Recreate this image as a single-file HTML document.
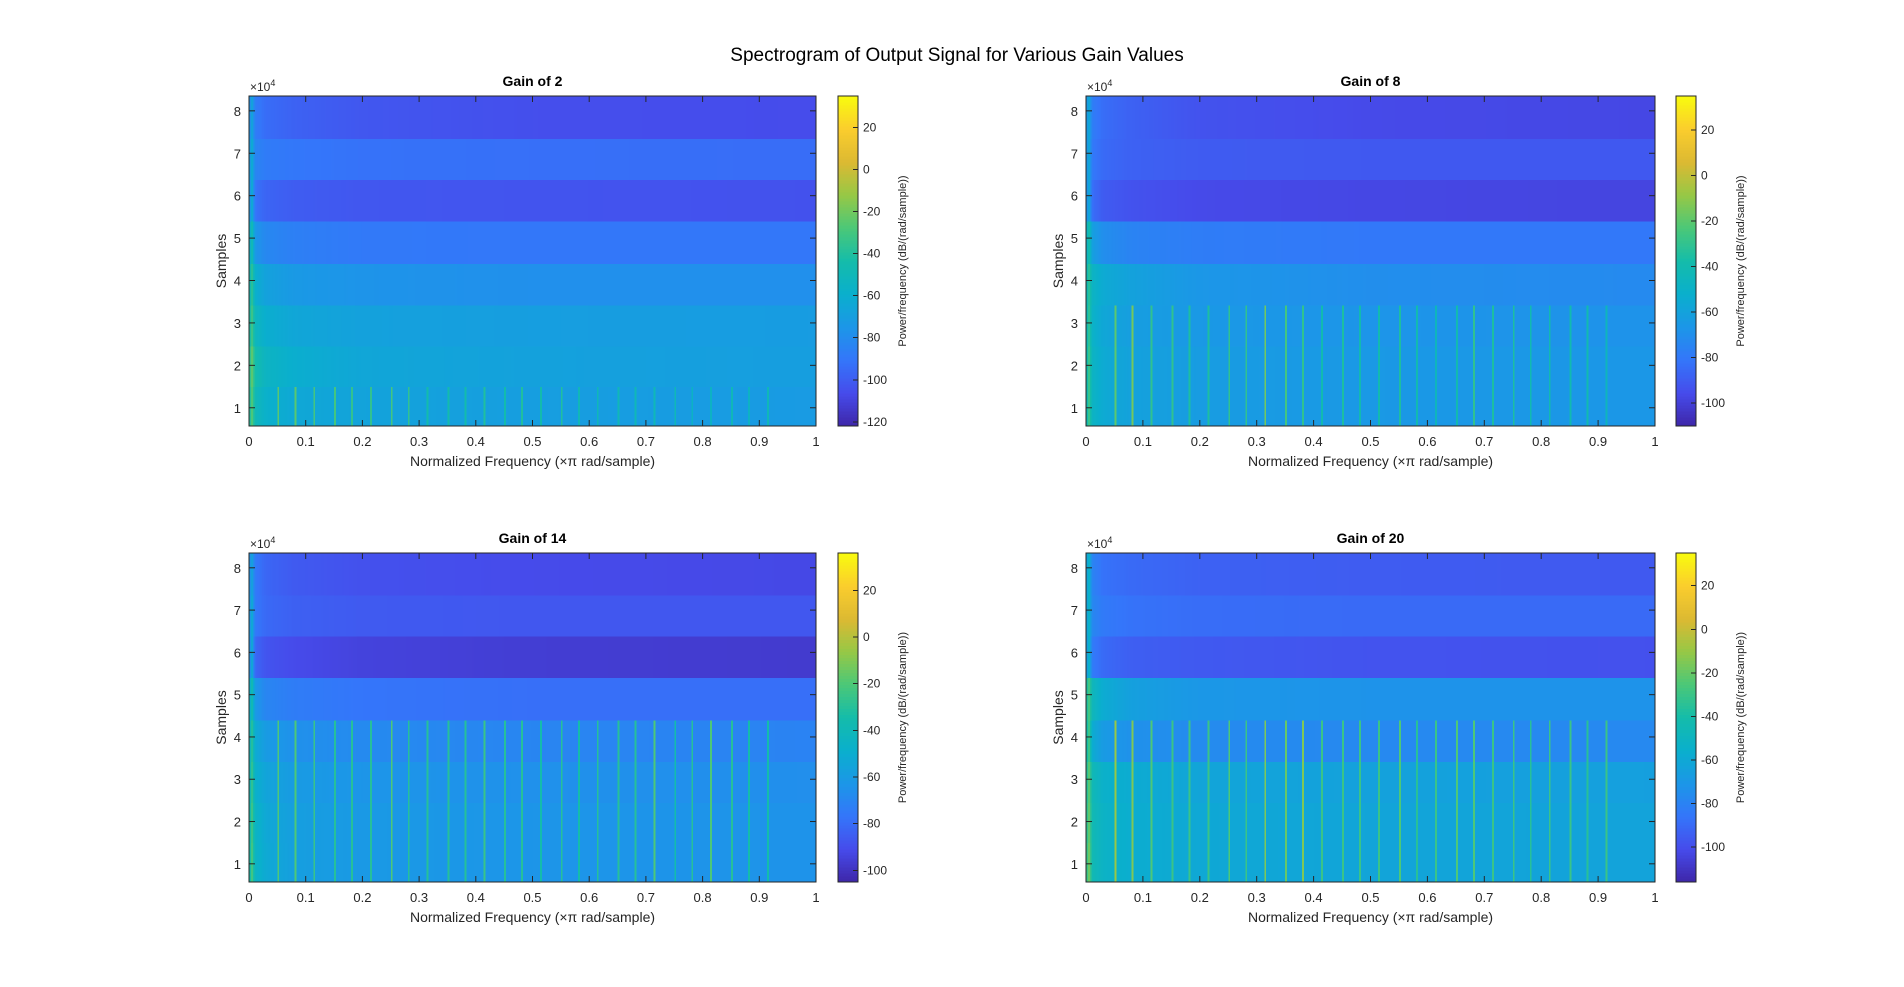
<!DOCTYPE html>
<html><head><meta charset="utf-8">
<style>
html,body{margin:0;padding:0;background:#fff;}
svg{display:block;font-family:"Liberation Sans",Arial,sans-serif;}
</style></head>
<body>
<svg id="fig" width="1904" height="987" viewBox="0 0 1904 987" xmlns="http://www.w3.org/2000/svg">
<rect width="1904" height="987" fill="#fff"/>
<text x="957" y="61" font-size="19" text-anchor="middle" fill="#000">Spectrogram of Output Signal for Various Gain Values</text>
</svg>
<script>
// ---- data ----
const titles = ["Gain of 2","Gain of 8","Gain of 14","Gain of 20"];
const anchorFreqs = [0, 0.004, 0.012, 0.03, 0.08, 0.2, 0.5, 1.0];
const bandEdges = [0.57, 1.5, 2.45, 3.42, 4.4, 5.4, 6.38, 7.35, 8.35];
const xTicks = [0,0.1,0.2,0.3,0.4,0.5,0.6,0.7,0.8,0.9,1];
const yTicks = [1,2,3,4,5,6,7,8];
const climG2 = [-122, 35];
const climG8 = [-110, 35];
const climG14 = [-105, 36];
const climG20 = [-116, 35];
const cbTicksG2 = [20,0,-20,-40,-60,-80,-100,-120];
const cbTicksG8 = [20,0,-20,-40,-60,-80,-100];
const cbTicksG14 = [20,0,-20,-40,-60,-80,-100];
const cbTicksG20 = [20,0,-20,-40,-60,-80,-100];
// band levels (dB) at anchorFreqs, bands from bottom to top
const levelsG2 = [
 [-50,-25,-50,-58,-64,-67,-70,-72],
 [-45,-22,-45,-54,-60,-65,-68,-70],
 [-50,-30,-52,-60,-65,-68,-70,-71],
 [-55,-35,-60,-68,-73,-76,-78,-78],
 [-65,-45,-75,-82,-86,-89,-90,-90],
 [-85,-60,-92,-97,-100,-102,-103,-104],
 [-80,-60,-84,-88,-90,-92,-93,-94],
 [-85,-65,-88,-94,-98,-102,-105,-106]];
const levelsG8 = [
 [-50,-25,-48,-55,-60,-63,-65,-66],
 [-48,-25,-48,-55,-60,-63,-65,-66],
 [-50,-28,-50,-57,-62,-65,-67,-68],
 [-48,-30,-48,-55,-60,-66,-70,-72],
 [-55,-35,-62,-70,-75,-78,-80,-80],
 [-75,-55,-84,-90,-93,-96,-97,-98],
 [-72,-55,-80,-85,-88,-90,-91,-91],
 [-70,-55,-78,-84,-88,-93,-96,-97]];
const levelsG14 = [
 [-45,-20,-45,-52,-58,-61,-63,-64],
 [-45,-22,-45,-53,-58,-61,-63,-64],
 [-48,-25,-48,-55,-60,-63,-65,-66],
 [-50,-28,-52,-60,-65,-68,-70,-71],
 [-55,-35,-62,-70,-74,-77,-79,-79],
 [-75,-50,-82,-88,-91,-94,-96,-97],
 [-70,-50,-76,-81,-84,-86,-87,-87],
 [-70,-55,-76,-82,-86,-89,-91,-92]];
const levelsG20 = [
 [-40,-15,-45,-52,-57,-60,-62,-63],
 [-42,-18,-45,-52,-57,-60,-62,-63],
 [-45,-20,-46,-54,-58,-62,-64,-65],
 [-50,-25,-58,-68,-73,-76,-77,-77],
 [-45,-25,-48,-58,-65,-70,-72,-72],
 [-75,-50,-84,-90,-94,-96,-98,-99],
 [-70,-50,-78,-84,-87,-89,-90,-90],
 [-70,-50,-80,-87,-90,-93,-95,-96]];
// harmonic spike frequencies and their level (dB), number of bands affected
const spikesG2 = [0.05,0.083,0.116,0.15,0.183,0.216,0.25,0.283,0.316,0.35,0.383,0.416,0.45,0.483,0.516,0.55,0.583,0.616,0.65,0.683,0.716,0.75,0.783,0.816,0.85,0.883,0.916];
const spikeLevelsG2 = [-25,-25,-30,-30,-35,-35,-30,-35,-45,-45,-45,-40,-45,-40,-45,-40,-50,-50,-50,-50,-50,-50,-55,-55,-50,-55,-50];
const spikesG8 = [0.05,0.083,0.116,0.15,0.183,0.216,0.25,0.283,0.316,0.35,0.383,0.416,0.45,0.483,0.516,0.55,0.583,0.616,0.65,0.683,0.716,0.75,0.783,0.816,0.85,0.883,0.916];
const spikeLevelsG8 = [-20,-15,-30,-30,-35,-35,-30,-30,-15,-25,-30,-40,-35,-40,-40,-35,-40,-45,-40,-30,-35,-35,-40,-40,-40,-40,-45];
const spikesG14 = [0.05,0.083,0.116,0.15,0.183,0.216,0.25,0.283,0.316,0.35,0.383,0.416,0.45,0.483,0.516,0.55,0.583,0.616,0.65,0.683,0.716,0.75,0.783,0.816,0.85,0.883,0.916];
const spikeLevelsG14 = [-20,-20,-25,-30,-30,-30,-20,-30,-30,-30,-30,-25,-30,-30,-35,-30,-35,-30,-30,-30,-20,-35,-30,-20,-30,-35,-35];
const spikesG20 = [0.05,0.083,0.116,0.15,0.183,0.216,0.25,0.283,0.316,0.35,0.383,0.416,0.45,0.483,0.516,0.55,0.583,0.616,0.65,0.683,0.716,0.75,0.783,0.816,0.85,0.883,0.916];
const spikeLevelsG20 = [-10,-15,-25,-30,-30,-30,-25,-30,-15,-20,-15,-30,-30,-30,-30,-25,-35,-30,-25,-25,-30,-30,-35,-30,-30,-35,-30];
const spikeBands = [1, 3, 4, 4];

// ---- layout ----
const panels = [
 {x0:249,x1:816,y0:96,y1:426,cb:838,levels:levelsG2,clim:climG2,cbt:cbTicksG2,sp:spikesG2,sl:spikeLevelsG2},
 {x0:1086,x1:1655,y0:96,y1:426,cb:1676,levels:levelsG8,clim:climG8,cbt:cbTicksG8,sp:spikesG8,sl:spikeLevelsG8},
 {x0:249,x1:816,y0:553,y1:882,cb:838,levels:levelsG14,clim:climG14,cbt:cbTicksG14,sp:spikesG14,sl:spikeLevelsG14},
 {x0:1086,x1:1655,y0:553,y1:882,cb:1676,levels:levelsG20,clim:climG20,cbt:cbTicksG20,sp:spikesG20,sl:spikeLevelsG20}];

const parula = [[62,38,168],[70,75,235],[52,118,250],[28,150,232],[10,175,205],[20,188,170],[75,200,120],[150,200,70],[220,185,50],[250,205,45],[249,251,14]];
function cmap(t){t=Math.max(0,Math.min(1,t));const p=t*10,i=Math.min(9,Math.floor(p)),f=p-i;
 const a=parula[i],b=parula[i+1];return `rgb(${Math.round(a[0]+(b[0]-a[0])*f)},${Math.round(a[1]+(b[1]-a[1])*f)},${Math.round(a[2]+(b[2]-a[2])*f)})`;}
function interp(arr,f){for(let i=0;i<anchorFreqs.length-1;i++){if(f<=anchorFreqs[i+1]){const t=(f-anchorFreqs[i])/(anchorFreqs[i+1]-anchorFreqs[i]);return arr[i]+(arr[i+1]-arr[i])*t;}}return arr[arr.length-1];}

const NS="http://www.w3.org/2000/svg";
const svg=document.getElementById('fig');
function el(tag,attrs,parent){const e=document.createElementNS(NS,tag);for(const k in attrs)e.setAttribute(k,attrs[k]);(parent||svg).appendChild(e);return e;}

const NB=300;
panels.forEach((P,pi)=>{
 const g=el('g',{});
 
 
 const xs=f=>P.x0+f*(P.x1-P.x0);
 const ys=v=>P.y1-(v-bandEdges[0])/(bandEdges[8]-bandEdges[0])*(P.y1-P.y0);
 const cn=v=>(v-P.clim[0])/(P.clim[1]-P.clim[0]);
 const hm=el('g',{'shape-rendering':'crispEdges'},g);
 
 
 for(let b=0;b<8;b++){
  const yt=ys(bandEdges[b+1]),yb=ys(bandEdges[b]);
  for(let k=0;k<NB;k++){
   const f0=k/NB,f1=(k+1)/NB,fc=(f0+f1)/2;
   let v=interp(P.levels[b],fc);
   if(b<spikeBands[pi]){P.sp.forEach((s,si)=>{if(s>=f0&&s<f1)v=Math.max(v,P.sl[si]);});}
   const r=el('rect',{x:xs(f0).toFixed(2),y:yt.toFixed(2),width:(xs(f1)-xs(f0)+0.4).toFixed(2),height:(yb-yt+0.4).toFixed(2),fill:cmap(cn(v))},hm);
   
   
  }
 }
 const box=el('rect',{x:P.x0,y:P.y0,width:P.x1-P.x0,height:P.y1-P.y0,fill:'none',stroke:'#262626','stroke-width':1},g);
 
 
 xTicks.forEach(t=>{const x=xs(t);
  el('line',{x1:x,y1:P.y1,x2:x,y2:P.y1-6,stroke:'#262626'},g);
  el('line',{x1:x,y1:P.y0,x2:x,y2:P.y0+6,stroke:'#262626'},g);
  const tx=el('text',{x:x,y:P.y1+20,'font-size':13,'text-anchor':'middle',fill:'#262626'},g);tx.textContent=String(t);
  
  
 });
 yTicks.forEach(t=>{const y=ys(t);
  el('line',{x1:P.x0,y1:y,x2:P.x0+6,y2:y,stroke:'#262626'},g);
  el('line',{x1:P.x1,y1:y,x2:P.x1-6,y2:y,stroke:'#262626'},g);
  const tx=el('text',{x:P.x0-8,y:y+5,'font-size':13,'text-anchor':'end',fill:'#262626'},g);tx.textContent=String(t);
  
  
 });
 const ex=el('text',{x:P.x0+1,y:P.y0-5,'font-size':12,fill:'#262626'},g);
 ex.innerHTML='×10<tspan dy="-5" font-size="9">4</tspan>';
 
 
 const xl=el('text',{x:(P.x0+P.x1)/2,y:P.y1+40,'font-size':14,'text-anchor':'middle',fill:'#262626'},g);
 xl.textContent='Normalized Frequency  (×π rad/sample)';
 
 
 const cy=(P.y0+P.y1)/2;
 const yl=el('text',{x:0,y:0,'font-size':14,'text-anchor':'middle',fill:'#262626',transform:`translate(${P.x0-23},${cy}) rotate(-90)`},g);
 yl.textContent='Samples';
 
 
 const ti=el('text',{x:(P.x0+P.x1)/2,y:P.y0-10,'font-size':14,'font-weight':'bold','text-anchor':'middle',fill:'#000'},g);
 ti.textContent=titles[pi];
 
 
 const cbg=el('g',{'shape-rendering':'crispEdges'},g);
 
 
 const H=P.y1-P.y0;
 for(let i=0;i<110;i++){
  el('rect',{x:P.cb,y:(P.y1-(i+1)*H/110).toFixed(2),width:20,height:(H/110+0.5).toFixed(2),fill:cmap((i+0.5)/110)},cbg);
 }
 el('rect',{x:P.cb,y:P.y0,width:20,height:H,fill:'none',stroke:'#262626'},cbg);
 const cys=v=>P.y1-cn(v)*H;
 P.cbt.forEach(t=>{const y=cys(t);
  el('line',{x1:P.cb+20,y1:y,x2:P.cb+15,y2:y,stroke:'#262626'},cbg);
  const tx=el('text',{x:P.cb+25,y:y+4,'font-size':12,fill:'#262626'},cbg);tx.textContent=String(t);
  
  
 });
 const cl=el('text',{x:0,y:0,'font-size':11,'text-anchor':'middle',fill:'#262626',transform:`translate(${P.cb+68},${cy}) rotate(-90)`},g);
 cl.textContent='Power/frequency (dB/(rad/sample))';
 
 
});
</script>
</body></html>
